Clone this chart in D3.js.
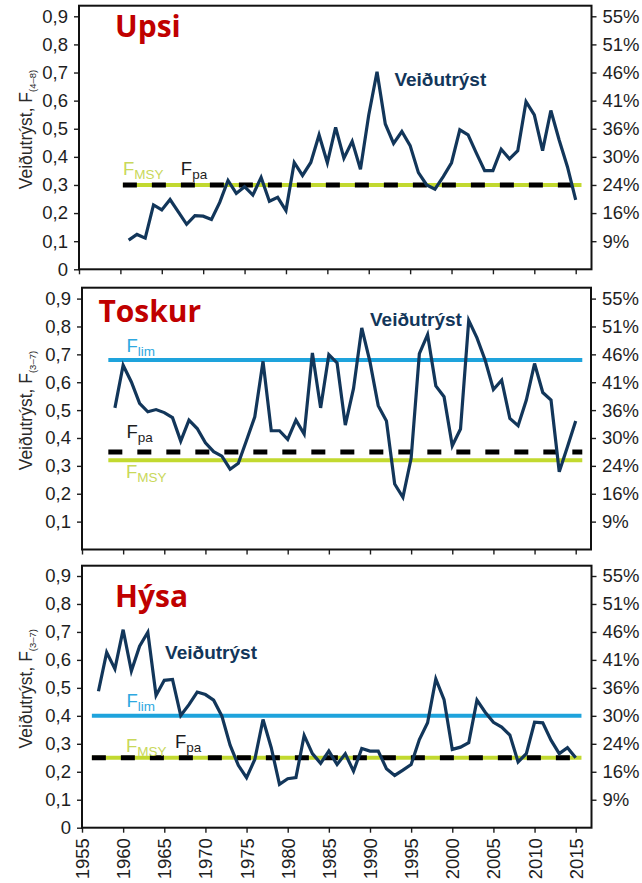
<!DOCTYPE html>
<html lang="is">
<head>
<meta charset="UTF-8">
<title>Veiðutrýst</title>
<script src="https://d3js.org/d3.v7.min.js"></script>
<style>
  body { margin: 0; background: #fff; }
  svg { display: block; font-family: "Liberation Sans", Arial, sans-serif; }
</style>
</head>
<body>
<svg id="chart" width="642" height="883"></svg>
<script>
// fishing mortality, one value per year
const stocks = ["Upsi", "Toskur", "Hýsa"];
const ageRanges = ["(4–8)", "(3–7)", "(3–7)"];

const upsiStart = 1961;
const upsiF = [0.104, 0.124, 0.111, 0.229, 0.211, 0.248, 0.204, 0.16, 0.191, 0.189, 0.177, 0.238,
  0.316, 0.27, 0.294, 0.264, 0.327, 0.242, 0.256, 0.209, 0.38, 0.334, 0.38, 0.478, 0.379, 0.505,
  0.395, 0.455, 0.356, 0.549, 0.703, 0.517, 0.448, 0.49, 0.44, 0.344, 0.3, 0.285, 0.33, 0.379,
  0.496, 0.478, 0.413, 0.351, 0.351, 0.427, 0.393, 0.422, 0.596, 0.549, 0.422, 0.565, 0.46,
  0.365, 0.247];

const toskurStart = 1959;
const toskurF = [0.508, 0.661, 0.601, 0.524, 0.494, 0.502, 0.491, 0.473, 0.389, 0.464, 0.434,
  0.383, 0.351, 0.335, 0.288, 0.309, 0.392, 0.476, 0.675, 0.426, 0.426, 0.395, 0.464, 0.414,
  0.705, 0.508, 0.699, 0.669, 0.446, 0.578, 0.795, 0.673, 0.516, 0.461, 0.235, 0.187, 0.327,
  0.703, 0.771, 0.587, 0.548, 0.372, 0.432, 0.822, 0.759, 0.679, 0.574, 0.607, 0.47, 0.444,
  0.536, 0.667, 0.563, 0.536, 0.279, 0.369, 0.461];

const hysaStart = 1957;
const hysaF = [0.488, 0.627, 0.568, 0.708, 0.56, 0.649, 0.699, 0.473, 0.527, 0.53, 0.401, 0.44,
  0.485, 0.476, 0.456, 0.399, 0.295, 0.223, 0.179, 0.244, 0.387, 0.286, 0.155, 0.175, 0.179,
  0.33, 0.265, 0.23, 0.274, 0.226, 0.264, 0.202, 0.283, 0.274, 0.274, 0.211, 0.187, 0.206,
  0.226, 0.315, 0.375, 0.532, 0.458, 0.28, 0.288, 0.304, 0.456, 0.413, 0.377, 0.36, 0.331,
  0.235, 0.265, 0.377, 0.375, 0.313, 0.265, 0.286, 0.25];

// reference points
const fmsy = [0.3, 0.32, 0.25];
const fpa = [0.3, 0.35, 0.25];
const flim = [null, 0.68, 0.4];
const refSpan = [[1960.3, 2015.7], [1958.2, 2015.8], [1956.2, 2015.7]];

const leftTicks = [0, 0.1, 0.2, 0.3, 0.4, 0.5, 0.6, 0.7, 0.8, 0.9];
const rightTicks = [0.1, 0.2, 0.3, 0.4, 0.5, 0.6, 0.7, 0.8, 0.9];
const pctLabels = ["9%", "16%", "24%", "30%", "36%", "41%", "46%", "51%", "55%"];
const yearTicks = [1955, 1960, 1965, 1970, 1975, 1980, 1985, 1990, 1995, 2000, 2005, 2010, 2015];

const series = [
  { start: upsiStart, values: upsiF },
  { start: toskurStart, values: toskurF },
  { start: hysaStart, values: hysaF }
];

// layout of each panel (pixels) and where its annotations sit (data units)
const panels = [
  { left: 79, right: 591.5, top: 5.7, y0: 269.3, y9: 16.3, zero: true, years: false,
    title: [36, 31], veid: [1993.1, 0.652],
    lab: { msy: [1960.3, 0.335], pa: [1967.3, 0.335] } },
  { left: 82, right: 591, top: 287.7, y0: 549.5, y9: 298.6, zero: false, years: false,
    title: [16.4, 34], veid: [1990.0, 0.802],
    lab: { lim: [1960.4, 0.709], pa: [1960.4, 0.399], msy: [1960.35, 0.255] } },
  { left: 82, right: 591.5, top: 565.7, y0: 827.7, y9: 576, zero: true, years: true,
    title: [33, 41], veid: [1965.1, 0.603],
    lab: { lim: [1960.4, 0.433], msy: [1960.35, 0.272], pa: [1966.3, 0.285] } }
];

const navy = "#12365a";
const green = "#c2d92f";
const greenText = "#c9d85a";
const blue = "#1ea3dc";
const blueText = "#2ea8e0";
const ink = "#1e1e1e";

const svg = d3.select("#chart");
svg.append("rect").attr("width", 642).attr("height", 883).attr("fill", "#fff");

const fmtLeft = d => d === 0 ? "0" : d3.format(".1f")(d).replace(".", ",");

function fLabel(g, x, y, sub, color) {
  const t = g.append("text")
    .attr("x", x).attr("y", y)
    .attr("fill", color)
    .attr("font-size", 18.5);
  t.append("tspan").text("F");
  t.append("tspan").attr("dy", 4).attr("font-size", 13.5).text(sub);
}

panels.forEach((p, i) => {
  const s = series[i];
  const x = d3.scaleLinear()
    .domain([1955, 2015])
    .range([p.left, 575.7]);
  const y = d3.scaleLinear()
    .domain([0, 0.9])
    .range([p.y0, p.y9]);

  const g = svg.append("g");

  // axes
  const ax = g.append("g").attr("transform", `translate(${p.left},0)`)
    .call(d3.axisLeft(y)
      .tickValues(p.zero ? leftTicks : rightTicks)
      .tickFormat(fmtLeft)
      .tickSize(5).tickPadding(6));
  const ay = g.append("g").attr("transform", `translate(${p.right},0)`)
    .call(d3.axisRight(y)
      .tickValues(rightTicks)
      .tickFormat((d, k) => pctLabels[k])
      .tickSize(5).tickPadding(6));
  const axb = g.append("g").attr("transform", `translate(0,${p.y0})`)
    .call(d3.axisBottom(x)
      .tickValues(yearTicks)
      .tickFormat(p.years ? d3.format("d") : "")
      .tickSize(5).tickPadding(5));

  [ax, ay, axb].forEach(a => {
    a.select(".domain").remove();
    a.selectAll(".tick line").attr("stroke", ink).attr("stroke-width", 1.4);
    a.selectAll("text").attr("fill", ink).attr("font-size", 18.5)
      .attr("font-family", "'Liberation Sans', Arial, sans-serif");
  });

  if (p.years) {
    axb.selectAll("text")
      .attr("transform", "rotate(-90)")
      .attr("text-anchor", "end")
      .attr("x", -10.5)
      .attr("y", 0)
      .attr("dy", "0.35em");
  }

  // frame
  g.append("rect")
    .attr("x", p.left).attr("y", p.top)
    .attr("width", p.right - p.left).attr("height", p.y0 - p.top)
    .attr("fill", "none").attr("stroke", "#111").attr("stroke-width", 2);

  // y title
  const cy = (p.top + p.y0) / 2 - 8;
  const yt = g.append("text")
    .attr("transform", `translate(31.5,${cy}) rotate(-90)`)
    .attr("text-anchor", "middle")
    .attr("fill", "#2a2a2a")
    .attr("font-size", 17.5);
  yt.append("tspan").text("Veiðutrýst, F");
  yt.append("tspan").attr("dy", 4).attr("font-size", 9.5).text(ageRanges[i]);

  // reference lines
  const span = refSpan[i];
  if (flim[i] !== null) {
    g.append("line")
      .attr("x1", x(span[0])).attr("x2", x(span[1]))
      .attr("y1", y(flim[i])).attr("y2", y(flim[i]))
      .attr("stroke", blue).attr("stroke-width", 4);
  }
  g.append("line")
    .attr("x1", x(span[0])).attr("x2", x(span[1]))
    .attr("y1", y(fmsy[i])).attr("y2", y(fmsy[i]))
    .attr("stroke", green).attr("stroke-width", 4);
  g.append("line")
    .attr("x1", x(span[0])).attr("x2", x(span[1]))
    .attr("y1", y(fpa[i])).attr("y2", y(fpa[i]))
    .attr("stroke", "#000").attr("stroke-width", 5)
    .attr("stroke-dasharray", "14,15");

  // F series
  const line = d3.line()
    .x((d, k) => x(s.start + k))
    .y(d => y(d));
  g.append("path")
    .datum(s.values)
    .attr("d", line)
    .attr("fill", "none")
    .attr("stroke", navy)
    .attr("stroke-width", 3.2);

  // labels
  g.append("text")
    .attr("x", p.left + p.title[0]).attr("y", p.top + p.title[1])
    .attr("font-family", "'Open Sans', sans-serif")
    .attr("font-weight", 700)
    .attr("font-size", 30)
    .attr("fill", "#c00000")
    .text(stocks[i]);

  g.append("text")
    .attr("x", x(p.veid[0])).attr("y", y(p.veid[1]))
    .attr("font-weight", 700)
    .attr("font-size", 19)
    .attr("fill", navy)
    .text("Veiðutrýst");

  if (p.lab.lim) fLabel(g, x(p.lab.lim[0]), y(p.lab.lim[1]), "lim", blueText);
  fLabel(g, x(p.lab.msy[0]), y(p.lab.msy[1]), "MSY", greenText);
  fLabel(g, x(p.lab.pa[0]), y(p.lab.pa[1]), "pa", ink);
});
</script>
</body>
</html>
